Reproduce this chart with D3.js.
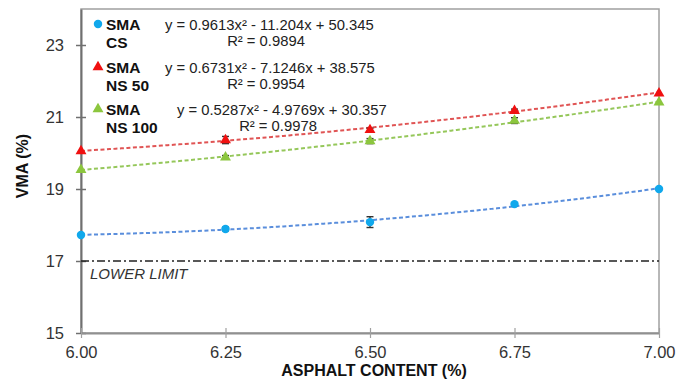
<!DOCTYPE html>
<html><head><meta charset="utf-8">
<script src="https://cdn.jsdelivr.net/npm/d3@7"></script>
<style>body{margin:0;background:#fff}svg{display:block}text{font-family:"Liberation Sans",Arial,sans-serif}</style>
</head><body><svg id="c" width="691" height="381"></svg>
<script>
const asphalt = [6.00, 6.25, 6.50, 6.75, 7.00];
const xTicks = [6.00, 6.25, 6.50, 6.75, 7.00];
const yTicks = [15, 17, 19, 21, 23];
const csVMA = [17.72, 17.89, 18.08, 18.58, 19.00];
const ns50VMA = [20.05, 20.36, 20.64, 21.17, 21.66];
const ns100VMA = [19.53, 19.88, 20.33, 20.90, 21.41];
const csErr = [0, 0.05, 0.15, 0.04, 0];
const ns50Err = [0, 0.1, 0.05, 0.05, 0];
const ns100Err = [0, 0.05, 0.07, 0.08, 0];
const csFit = [0.9613, -11.204, 50.345];
const ns50Fit = [0.6731, -7.1246, 38.575];
const ns100Fit = [0.5287, -4.9769, 30.357];
const lowerLimit = 17;

const series = [
  {name1:"SMA", name2:"CS", vals:csVMA, err:csErr, fit:csFit, eq:"y = 0.9613x² - 11.204x + 50.345", r2:"R² = 0.9894", marker:"circle", mcol:"#10a8ec", lcol:"#5a8edc"},
  {name1:"SMA", name2:"NS 50", vals:ns50VMA, err:ns50Err, fit:ns50Fit, eq:"y = 0.6731x² - 7.1246x + 38.575", r2:"R² = 0.9954", marker:"triangle", mcol:"#f01010", lcol:"#e05454"},
  {name1:"SMA", name2:"NS 100", vals:ns100VMA, err:ns100Err, fit:ns100Fit, eq:"y = 0.5287x² - 4.9769x + 30.357", r2:"R² = 0.9978", marker:"triangle", mcol:"#8cc63e", lcol:"#95c75a"}
];

const svg = d3.select("#c");
const L=81, R=659, T=9, B=333;
const x = d3.scaleLinear().domain([6,7]).range([L,R]);
const y = d3.scaleLinear().domain([15,24]).range([B,T]);

svg.append("rect").attr("x",L).attr("y",T).attr("width",R-L).attr("height",B-T)
  .attr("fill","none").attr("stroke","#a0a0a0").attr("stroke-width",1.5);

const ya = svg.append("g").attr("transform",`translate(${L},0)`)
  .call(d3.axisLeft(y).tickValues(yTicks).tickFormat(d3.format("d")).tickSizeInner(5).tickSizeOuter(0).tickPadding(12));
ya.select(".domain").attr("stroke","#707070").attr("stroke-width",2);
ya.selectAll(".tick line").attr("x2",5).attr("x1",-5).attr("stroke","#707070").attr("stroke-width",1.5);
ya.selectAll(".tick text").attr("font-size",16.5).attr("fill","#333").attr("font-family","Liberation Sans, Arial, sans-serif");

const xa = svg.append("g").attr("transform",`translate(0,${B})`)
  .call(d3.axisBottom(x).tickValues(xTicks).tickFormat(d3.format(".2f")).tickSizeInner(5).tickSizeOuter(0).tickPadding(8));
xa.select(".domain").attr("stroke","#909090").attr("stroke-width",2);
xa.selectAll(".tick line").attr("y1",-5).attr("y2",5).attr("stroke","#a0a0a0").attr("stroke-width",1.2);
xa.selectAll(".tick text").attr("font-size",16.5).attr("fill","#333").attr("font-family","Liberation Sans, Arial, sans-serif");

svg.append("line").attr("x1",x(6)).attr("x2",x(7)).attr("y1",y(lowerLimit)).attr("y2",y(lowerLimit))
  .attr("stroke","#222").attr("stroke-width",1.3).attr("stroke-dasharray","8,3,2,3");
svg.append("text").attr("x",90).attr("y",279).attr("font-size",15).attr("font-style","italic").attr("fill","#333").text("LOWER LIMIT");

const xs = d3.range(0,101).map(i=>6+i/100);
const line = d3.line().x(d=>x(d[0])).y(d=>y(d[1]));
series.forEach(s=>{
  const pts = xs.map(v=>[v, s.fit[0]*v*v + s.fit[1]*v + s.fit[2]]);
  svg.append("path").attr("d",line(pts)).attr("fill","none").attr("stroke",s.lcol)
    .attr("stroke-width",2).attr("stroke-dasharray","4,2.5");
});

const sym = {circle:d3.symbol().type(d3.symbolCircle).size(56), triangle:d3.symbol().type(d3.symbolTriangle).size(52)};
series.forEach(s=>{
  s.vals.forEach((v,i)=>{
    const cx=x(asphalt[i]), cy=y(v);
    if(s.err[i]>0){
      const g=svg.append("g").attr("stroke","#333").attr("stroke-width",1.4);
      const y1=y(v+s.err[i]), y2=y(v-s.err[i]);
      g.append("line").attr("x1",cx).attr("x2",cx).attr("y1",y1).attr("y2",y2);
      g.append("line").attr("x1",cx-3.5).attr("x2",cx+3.5).attr("y1",y1).attr("y2",y1);
      g.append("line").attr("x1",cx-3.5).attr("x2",cx+3.5).attr("y1",y2).attr("y2",y2);
    }
    svg.append("path").attr("d",sym[s.marker]()).attr("transform",`translate(${cx},${cy})`).attr("fill",s.mcol);
  });
});

const rowY=[25,68,110];
const eqX=[165,165,177];
series.forEach((s,i)=>{
  const ry=rowY[i];
  svg.append("path").attr("d",sym[s.marker]()).attr("transform",`translate(98,${ry-1})`).attr("fill",s.mcol);
  svg.append("text").attr("x",106).attr("y",ry+5).attr("font-size",15.5).attr("font-weight","bold").attr("fill","#111").text(s.name1);
  svg.append("text").attr("x",106).attr("y",ry+23).attr("font-size",15.5).attr("font-weight","bold").attr("fill","#111").text(s.name2);
  svg.append("text").attr("x",eqX[i]).attr("y",ry+5).attr("font-size",14.8).attr("fill","#222").text(s.eq);
  svg.append("text").attr("x",eqX[i]+101).attr("y",ry+21).attr("font-size",14.8).attr("fill","#222").attr("text-anchor","middle").text(s.r2);
});

svg.append("text").attr("x",(L+R)/2+4).attr("y",376).attr("text-anchor","middle").attr("font-size",16).attr("font-weight","bold").attr("fill","#111").text("ASPHALT CONTENT (%)");
svg.append("text").attr("transform","translate(28,166) rotate(-90)").attr("text-anchor","middle").attr("font-size",16).attr("font-weight","bold").attr("fill","#111").text("VMA (%)");
</script></body></html>
